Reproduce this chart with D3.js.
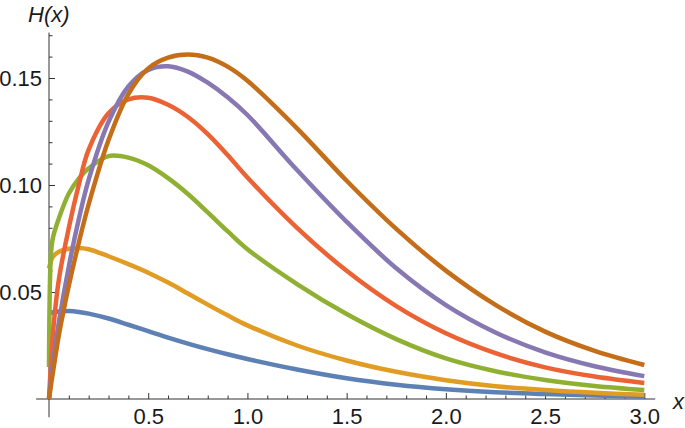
<!DOCTYPE html>
<html>
<head>
<meta charset="utf-8">
<script src="https://cdn.jsdelivr.net/npm/d3@7"></script>
<style>
  html, body { margin: 0; padding: 0; background: #fff; }
  svg { display: block; }
  .tick text { font-family: "Liberation Sans", Arial, sans-serif; font-size: 22px; fill: #1a1a1a; }
  .lbl { font-family: "Liberation Sans", Arial, sans-serif; font-size: 22px; font-style: italic; fill: #1a1a1a; }
</style>
</head>
<body>
<svg id="chart"></svg>
<script>
// sample points along x
const xs = [0, 0.01, 0.02, 0.05, 0.1, 0.15, 0.2, 0.3, 0.4, 0.5, 0.6, 0.7, 0.8, 0.9,
            1.0, 1.25, 1.5, 1.75, 2.0, 2.25, 2.5, 2.75, 3.0];

const blue   = [0.040, 0.0403, 0.0405, 0.0409, 0.0411, 0.0407, 0.0399, 0.0376, 0.0347, 0.0317, 0.0287, 0.0259, 0.0233, 0.0209,
                0.0187, 0.0138, 0.0097, 0.0067, 0.0046, 0.0032, 0.0023, 0.0016, 0.0011];
const orange = [0.061, 0.0645, 0.0665, 0.0688, 0.0702, 0.0706, 0.0700, 0.0667, 0.0630, 0.0590, 0.0544, 0.0493, 0.0441, 0.0391,
                0.0344, 0.0250, 0.0180, 0.0127, 0.0088, 0.0060, 0.0042, 0.0029, 0.0020];
const green  = [0.015, 0.068, 0.0755, 0.0845, 0.0960, 0.1030, 0.1078, 0.1135, 0.1128, 0.1092, 0.1032, 0.0958, 0.0872, 0.0784,
                0.0700, 0.0537, 0.0397, 0.0280, 0.0190, 0.0130, 0.0089, 0.0061, 0.0042];
const red    = [0, 0.017, 0.031, 0.056, 0.080, 0.100, 0.1165, 0.1335, 0.1400, 0.1408, 0.1375, 0.1318, 0.1238, 0.1140,
                0.1035, 0.0800, 0.0599, 0.0434, 0.0307, 0.0214, 0.0148, 0.0105, 0.0075];
const purple = [0, 0.009, 0.017, 0.036, 0.062, 0.084, 0.1025, 0.1295, 0.1460, 0.1538, 0.1555, 0.1530, 0.1478, 0.1410,
                0.1327, 0.1070, 0.0828, 0.0611, 0.0439, 0.0311, 0.0218, 0.0153, 0.0107];
const brown  = [0, 0.0065, 0.0125, 0.030, 0.053, 0.073, 0.091, 0.121, 0.1425, 0.1545, 0.1595, 0.1610, 0.1595, 0.1553,
                0.1487, 0.1265, 0.1020, 0.0795, 0.0600, 0.0440, 0.0315, 0.0225, 0.0159];

const seriesValues = [blue, orange, green, red, purple, brown];
const seriesColors = ['#5E81B5', '#E19C24', '#8FB032', '#EB6235', '#8778B3', '#C56E1A'];

const yMajor = [0.05, 0.10, 0.15];
const xMajor = [0.5, 1.0, 1.5, 2.0, 2.5, 3.0];

const width = 685;
const height = 428;

const svg = d3.select('#chart')
    .attr('width', width)
    .attr('height', height);

const x = d3.scaleLinear().domain([0, 3]).range([49, 644.3]);
const y = d3.scaleLinear().domain([0, 0.15]).range([399, 78]);

// minor ticks every 0.1 / 0.01
const xMinor = d3.range(1, 31).map(i => i / 10).filter(v => !xMajor.some(m => Math.abs(m - v) < 1e-9));
const yMinor = d3.range(1, 18).map(i => i / 100).filter(v => !yMajor.some(m => Math.abs(m - v) < 1e-9));

const axisColor = '#333';

// x axis
const gx = svg.append('g').attr('transform', `translate(0,${y(0)})`);
gx.append('g')
    .call(d3.axisBottom(x).tickValues(xMinor).tickSizeInner(-3.5).tickSizeOuter(0).tickFormat(''))
    .call(g => g.select('.domain').remove());
gx.append('g')
    .call(d3.axisBottom(x).tickValues(xMajor).tickSizeInner(-6).tickSizeOuter(0)
        .tickPadding(9.5).tickFormat(d3.format('.1f')))
    .call(g => g.select('.domain').remove());
gx.append('line')
    .attr('x1', x(-0.065)).attr('x2', x(3.055))
    .attr('stroke', axisColor);

// y axis
const gy = svg.append('g').attr('transform', `translate(${x(0)},0)`);
gy.append('g')
    .call(d3.axisLeft(y).tickValues(yMinor).tickSizeInner(-3.5).tickSizeOuter(0).tickFormat(''))
    .call(g => g.select('.domain').remove());
gy.append('g')
    .call(d3.axisLeft(y).tickValues(yMajor).tickSizeInner(-6).tickSizeOuter(0)
        .tickPadding(7).tickFormat(d3.format('.2f')))
    .call(g => g.select('.domain').remove());
gy.append('line')
    .attr('y1', y(-0.0085)).attr('y2', y(0.1712))
    .attr('stroke', axisColor);

svg.selectAll('.tick line').attr('stroke', axisColor);
svg.selectAll('.tick text').attr('font-family', null).attr('font-size', null).attr('fill', null);

// curves
const line = d3.line()
    .x((d, i) => x(xs[i]))
    .y(d => y(d))
    .curve(d3.curveCatmullRom.alpha(0.5));

svg.append('g')
    .selectAll('path')
    .data(seriesValues)
    .join('path')
    .attr('d', d => line(d))
    .attr('fill', 'none')
    .attr('stroke', (d, i) => seriesColors[i])
    .attr('stroke-width', 4.5)
    .attr('stroke-linejoin', 'round');

// axis labels
svg.append('text').attr('class', 'lbl').attr('x', 28).attr('y', 22).text('H(x)');
svg.append('text').attr('class', 'lbl').attr('x', 673).attr('y', 408.5).text('x');
</script>
</body>
</html>
